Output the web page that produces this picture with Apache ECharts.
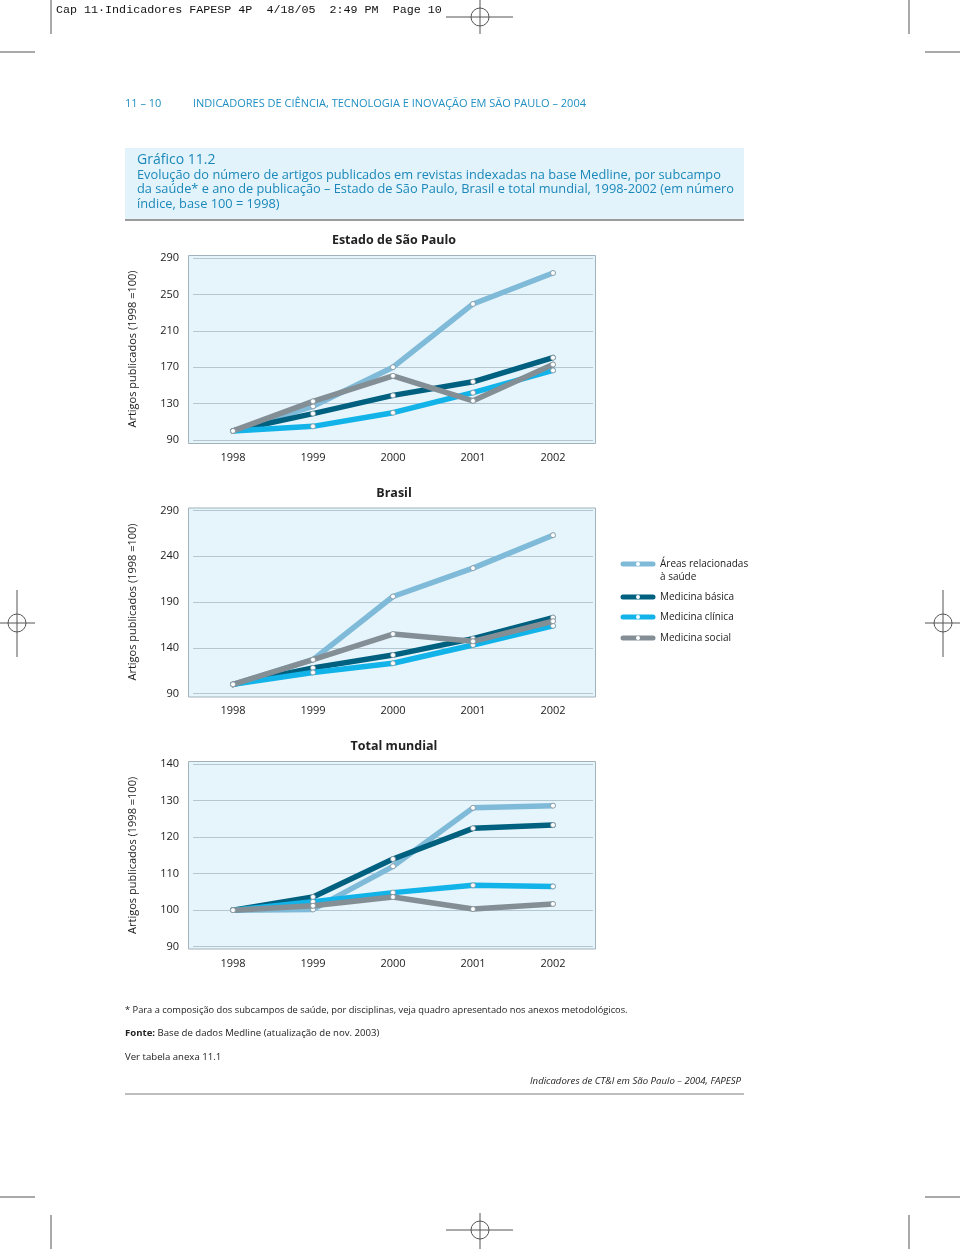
<!DOCTYPE html>
<html><head><meta charset="utf-8">
<script src="https://cdn.jsdelivr.net/npm/echarts@6/dist/echarts.min.js"></script>
<style>html,body{margin:0;padding:0;background:#fff}#c{width:960px;height:1249px}</style>
</head><body><div id="c"></div>
<script>
const years = ['1998','1999','2000','2001','2002'];
const seriesNames = ['Áreas relacionadas\nà saúde','Medicina básica','Medicina clínica','Medicina social'];
const panelTitles = ['Estado de São Paulo','Brasil','Total mundial'];
const yTicksSP = [90,130,170,210,250,290];
const yTicksBR = [90,140,190,240,290];
const yTicksMU = [90,100,110,120,130,140];

// Estado de São Paulo
const spAreas   = [100,127,170,239.5,273.5];
const spBasica  = [100,119,139,154,180.5];
const spClinica = [100,105,120,142,166.5];
const spSocial  = [100,132.5,160.5,133,173];
// Brasil
const brAreas   = [100,127,196,227,263];
const brBasica  = [100,118,132,150,173];
const brClinica = [100,113,123,143,164];
const brSocial  = [100,127,155,147,169];
// Total mundial
const muAreas   = [100,100.2,112,128,128.6];
const muBasica  = [100,103.6,114,122.4,123.3];
const muClinica = [100,102.3,104.8,106.8,106.5];
const muSocial  = [100,101.2,103.6,100.3,101.7];

const colors = ['#7fbad8','#00607f','#12b3e8','#848e95'];
const FONT = '"Open Sans", "Noto Sans", sans-serif';
const panels = [
  {data:[spAreas,spBasica,spClinica,spSocial], ticks:yTicksSP, top:258, h:182, frame:[255,188], titleY:240},
  {data:[brAreas,brBasica,brClinica,brSocial], ticks:yTicksBR, top:510.5, h:183, frame:[507.5,189], titleY:493},
  {data:[muAreas,muBasica,muClinica,muSocial], ticks:yTicksMU, top:764, h:182.7, frame:[761,187.5], titleY:746}
];

const grid=[], xAxis=[], yAxis=[], series=[], graphic=[];
panels.forEach((p,i)=>{
  grid.push({left:193, top:p.top, width:400, height:p.h});
  xAxis.push({type:'category', gridIndex:i, data:years, boundaryGap:true,
    axisLine:{show:false}, axisTick:{show:false},
    axisLabel:{color:'#222', fontSize:11, fontFamily:FONT, margin:12}});
  const t=p.ticks;
  yAxis.push({type:'value', gridIndex:i, min:t[0], max:t[t.length-1], interval:t[1]-t[0],
    axisLine:{show:false}, axisTick:{show:false},
    axisLabel:{color:'#222', fontSize:11, fontFamily:FONT, margin:14},
    splitLine:{show:true, lineStyle:{color:'#b4c7d1', width:1}},
    name:'Artigos publicados (1998 =100)', nameLocation:'middle', nameRotate:90, nameGap:55,
    nameTextStyle:{color:'#222', fontSize:11, fontFamily:FONT}});
  const order=[0,3,2,1];
  order.forEach(k=>{
    series.push({type:'line', xAxisIndex:i, yAxisIndex:i, name:seriesNames[k], data:p.data[k],
      lineStyle:{color:colors[k], width:5.5, cap:'round', join:'round'},
      symbol:'circle', symbolSize:5, showAllSymbol:true,
      itemStyle:{color:'#fff', borderColor:'#7f9099', borderWidth:0.8},
      emphasis:{disabled:true}, animation:false, z:3+k});
  });
  graphic.push({type:'rect', z:-10, silent:true, shape:{x:188.5, y:p.frame[0]+0.5, width:407, height:p.frame[1]},
    style:{fill:'#e6f4fb', stroke:'#a2b2ba', lineWidth:1}});
  graphic.push({type:'text', x:394, y:p.titleY, style:{text:panelTitles[i], font:'bold 12.5px '+FONT, fill:'#222', textAlign:'center', textVerticalAlign:'middle'}});
});

// legend
const legY=[564,597,617,638];
seriesNames.forEach((n,k)=>{
  graphic.push({type:'line', shape:{x1:623,y1:legY[k],x2:653,y2:legY[k]}, style:{stroke:colors[k], lineWidth:5, lineCap:'round'}});
  graphic.push({type:'circle', shape:{cx:638, cy:legY[k], r:2}, style:{fill:'#fff'}});
  graphic.push({type:'text', x:660, y:legY[k]-6.5, style:{text:n, font:'10px '+FONT, fill:'#222', lineHeight:13, textVerticalAlign:'top'}});
});

// header / titles / footer
const T=(x,y,text,font,fill,extra)=>graphic.push({type:'text', x, y, style:Object.assign({text, font, fill, textVerticalAlign:'middle'}, extra||{})});
T(56,10,'Cap 11·Indicadores FAPESP 4P  4/18/05  2:49 PM  Page 10','11.7px "Liberation Mono", monospace','#111');
T(125,104,'11 – 10','11px '+FONT,'#1f8fc3');
T(193,104,'INDICADORES DE CIÊNCIA, TECNOLOGIA E INOVAÇÃO EM SÃO PAULO – 2004','11px '+FONT,'#1f8fc3');
graphic.push({type:'rect', z:-10, shape:{x:125,y:148,width:619,height:71}, style:{fill:'#e3f3fb'}});
graphic.push({type:'line', shape:{x1:125,y1:220,x2:744,y2:220}, style:{stroke:'#9b9b9b', lineWidth:2}});
T(137,160,'Gráfico 11.2','14px '+FONT,'#1b88b9');
T(137,175,'Evolução do número de artigos publicados em revistas indexadas na base Medline, por subcampo','12.8px '+FONT,'#1b88b9');
T(137,189.5,'da saúde* e ano de publicação – Estado de São Paulo, Brasil e total mundial, 1998-2002 (em número','12.8px '+FONT,'#1b88b9');
T(137,204,'índice, base 100 = 1998)','12.8px '+FONT,'#1b88b9');
T(125,1010,'* Para a composição dos subcampos de saúde, por disciplinas, veja quadro apresentado nos anexos metodológicos.','9.3px '+FONT,'#222');
graphic.push({type:'text', x:125, y:1033, style:{text:'{b|Fonte:} Base de dados Medline (atualização de nov. 2003)', font:'9.6px '+FONT, fill:'#222', textVerticalAlign:'middle', rich:{b:{fontWeight:'bold', fontSize:9.6, fontFamily:FONT, fill:'#222'}}}});
T(125,1057,'Ver tabela anexa 11.1','9.6px '+FONT,'#222');
T(741,1081,'Indicadores de CT&I em São Paulo – 2004, FAPESP','italic 9.6px '+FONT,'#222',{textAlign:'right'});
graphic.push({type:'line', shape:{x1:125,y1:1094,x2:744,y2:1094}, style:{stroke:'#a8a8a8', lineWidth:1.5}});

// crop / register marks
const L=(x1,y1,x2,y2)=>graphic.push({type:'line', shape:{x1,y1,x2,y2}, style:{stroke:'#555', lineWidth:1}});
const reg=(cx,cy,hx1,hx2,vy1,vy2)=>{L(hx1,cy,hx2,cy);L(cx,vy1,cx,vy2);graphic.push({type:'circle',shape:{cx,cy,r:9},style:{fill:'none',stroke:'#555',lineWidth:1}});};
reg(480,17,446,513,0,34);
reg(480,1230,446,513,1213,1249);
reg(17,623,0,35,590,657);
reg(943,623,925,960,590,657);
L(51,0,51,34); L(909,0,909,34);
L(0,52,35,52); L(925,52,960,52);
L(0,1197,35,1197); L(925,1197,960,1197);
L(51,1215,51,1249); L(909,1215,909,1249);

const chart=echarts.init(document.getElementById('c'));
chart.setOption({animation:false, grid, xAxis, yAxis, series, graphic});
</script></body></html>
